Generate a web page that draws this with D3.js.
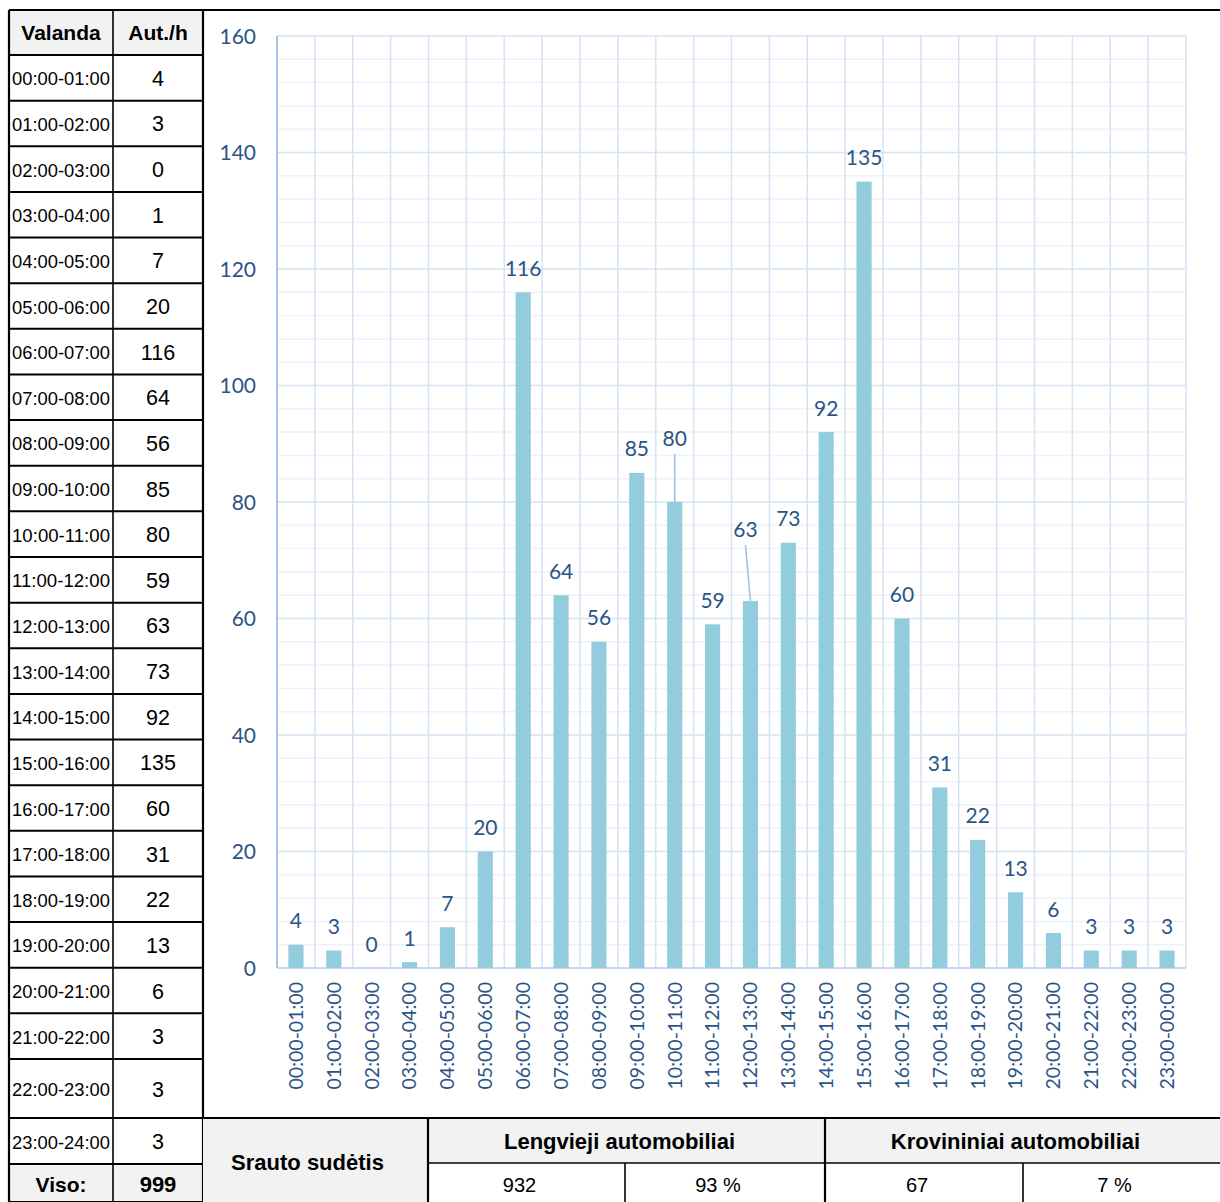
<!DOCTYPE html>
<html>
<head>
<meta charset="utf-8">
<script src="https://cdn.jsdelivr.net/npm/d3@7"></script>
<style>
  html, body { margin: 0; padding: 0; background: #fff; }
  svg { display: block; }
</style>
</head>
<body>
<svg id="chart" width="1220" height="1202"></svg>
<script>
// Hourly traffic counts (vehicles per hour)
const hourLabels = [
  "00:00-01:00","01:00-02:00","02:00-03:00","03:00-04:00","04:00-05:00","05:00-06:00",
  "06:00-07:00","07:00-08:00","08:00-09:00","09:00-10:00","10:00-11:00","11:00-12:00",
  "12:00-13:00","13:00-14:00","14:00-15:00","15:00-16:00","16:00-17:00","17:00-18:00",
  "18:00-19:00","19:00-20:00","20:00-21:00","21:00-22:00","22:00-23:00","23:00-24:00"
];
const axisLabels = [
  "00:00-01:00","01:00-02:00","02:00-03:00","03:00-04:00","04:00-05:00","05:00-06:00",
  "06:00-07:00","07:00-08:00","08:00-09:00","09:00-10:00","10:00-11:00","11:00-12:00",
  "12:00-13:00","13:00-14:00","14:00-15:00","15:00-16:00","16:00-17:00","17:00-18:00",
  "18:00-19:00","19:00-20:00","20:00-21:00","21:00-22:00","22:00-23:00","23:00-00:00"
];
const vehicles = [4,3,0,1,7,20,116,64,56,85,80,59,63,73,92,135,60,31,22,13,6,3,3,3];
const yTicks = [0,20,40,60,80,100,120,140,160];
const totalLabel = "Viso:";
const total = 999;

// Traffic composition
const compositionTitle = "Srauto sudėtis";
const groups = ["Lengvieji automobiliai", "Krovininiai automobiliai"];
const groupCounts = [932, 67];
const groupShares = ["93 %", "7 %"];

const svg = d3.select("#chart");
const W = 1220, H = 1202;

const BLUE_TEXT = "#2B5486";
const BAR = "#93CDDD";
const GRID_MAJOR = "#D6E3F4";
const GRID_MINOR = "#EDF2FA";
const HEAD_BG = "#F2F2F2";
const NARROW = "Liberation Sans Narrow, Liberation Sans, Arial";

// ---------- Left table ----------
const tbl = { x0: 9, x1: 113, x2: 203, top: 10, headBottom: 55 };
const rowEdges = [];
{
  const regular = d3.scaleLinear().domain([0, 22]).range([55, 1059]);
  for (let i = 0; i <= 22; i++) rowEdges.push(regular(i));
  rowEdges.push(1118, 1164, 1202);
}

const tableG = svg.append("g");
// header & total backgrounds
tableG.append("rect").attr("x", tbl.x0).attr("y", tbl.top).attr("width", tbl.x2 - tbl.x0)
  .attr("height", tbl.headBottom - tbl.top).attr("fill", HEAD_BG);
tableG.append("rect").attr("x", tbl.x0).attr("y", rowEdges[24]).attr("width", tbl.x2 - tbl.x0)
  .attr("height", rowEdges[25] - rowEdges[24]).attr("fill", HEAD_BG);

tableG.append("text").attr("x", (tbl.x0 + tbl.x1) / 2).attr("y", 32)
  .attr("text-anchor", "middle").attr("dominant-baseline", "central")
  .attr("font-family", NARROW).attr("font-weight", "bold")
  .attr("font-size", 21).attr("fill", "#000").text("Valanda");
tableG.append("text").attr("x", (tbl.x1 + tbl.x2) / 2).attr("y", 32)
  .attr("text-anchor", "middle").attr("dominant-baseline", "central")
  .attr("font-family", NARROW).attr("font-weight", "bold")
  .attr("font-size", 21).attr("fill", "#000").text("Aut./h");

const rows = tableG.selectAll("g.row").data(hourLabels).join("g").attr("class", "row");
rows.append("text")
  .attr("x", 12)
  .attr("y", (d, i) => (rowEdges[i] + rowEdges[i + 1]) / 2 + 1)
  .attr("dominant-baseline", "central")
  .attr("font-family", "Liberation Sans, Arial").attr("font-size", 18.5).attr("fill", "#000")
  .attr("textLength", 98).attr("lengthAdjust", "spacingAndGlyphs")
  .text(d => d);
rows.append("text")
  .attr("x", (tbl.x1 + tbl.x2) / 2)
  .attr("y", (d, i) => (rowEdges[i] + rowEdges[i + 1]) / 2 + 1)
  .attr("text-anchor", "middle").attr("dominant-baseline", "central")
  .attr("font-family", "Liberation Sans, Arial").attr("font-size", 21.5).attr("fill", "#000")
  .text((d, i) => vehicles[i]);

tableG.append("text").attr("x", (tbl.x0 + tbl.x1) / 2).attr("y", (rowEdges[24] + rowEdges[25]) / 2 + 1)
  .attr("text-anchor", "middle").attr("dominant-baseline", "central")
  .attr("font-family", NARROW).attr("font-weight", "bold")
  .attr("font-size", 21).attr("fill", "#000").text(totalLabel);
tableG.append("text").attr("x", (tbl.x1 + tbl.x2) / 2).attr("y", (rowEdges[24] + rowEdges[25]) / 2 + 1)
  .attr("text-anchor", "middle").attr("dominant-baseline", "central")
  .attr("font-family", "Liberation Sans, Arial").attr("font-weight", "bold")
  .attr("font-size", 22).attr("fill", "#000").text(total);

// table grid lines
const hLines = [tbl.top, tbl.headBottom].concat(rowEdges.slice(1));
tableG.selectAll("line.h").data(hLines).join("line").attr("class", "h")
  .attr("x1", tbl.x0).attr("x2", tbl.x2).attr("y1", d => d).attr("y2", d => d)
  .attr("stroke", "#000").attr("stroke-width", 2);
[tbl.x0, tbl.x1, tbl.x2].forEach((x, i) => {
  tableG.append("line").attr("x1", x).attr("x2", x).attr("y1", tbl.top).attr("y2", H)
    .attr("stroke", "#000").attr("stroke-width", i === 1 ? 1.6 : 2.2);
});

// ---------- Bar chart ----------
const plot = { left: 277, right: 1186, top: 36, bottom: 968 };
const x = d3.scaleBand().domain(axisLabels).range([plot.left, plot.right]).paddingInner(0.6).paddingOuter(0.3);
const xEdges = d3.scaleLinear().domain([0, axisLabels.length]).range([plot.left, plot.right]);
const y = d3.scaleLinear().domain([0, 160]).range([plot.bottom, plot.top]);

const chartG = svg.append("g");
// minor gridlines every 4 units, major every 20
const minor = d3.range(0, 161, 4).filter(v => v % 20 !== 0);
chartG.selectAll("line.minor").data(minor).join("line")
  .attr("x1", plot.left).attr("x2", plot.right).attr("y1", d => y(d)).attr("y2", d => y(d))
  .attr("stroke", GRID_MINOR).attr("stroke-width", 1.5);
chartG.selectAll("line.vgrid").data(d3.range(1, axisLabels.length + 1)).join("line")
  .attr("x1", d => xEdges(d)).attr("x2", d => xEdges(d)).attr("y1", plot.top).attr("y2", plot.bottom)
  .attr("stroke", GRID_MAJOR).attr("stroke-width", 1.5);
chartG.selectAll("line.major").data(yTicks.filter(v => v > 0)).join("line")
  .attr("x1", plot.left).attr("x2", plot.right).attr("y1", d => y(d)).attr("y2", d => y(d))
  .attr("stroke", GRID_MAJOR).attr("stroke-width", 1.5);

// axes lines
chartG.append("line").attr("x1", plot.left).attr("x2", plot.right).attr("y1", plot.bottom).attr("y2", plot.bottom)
  .attr("stroke", "#C9DAF0").attr("stroke-width", 2);
chartG.append("line").attr("x1", plot.left).attr("x2", plot.left).attr("y1", plot.top).attr("y2", plot.bottom)
  .attr("stroke", "#A9C4E8").attr("stroke-width", 2);

// y tick labels
const yAxis = d3.axisLeft(y).tickValues(yTicks).tickSize(0).tickPadding(0);
const yAxisG = chartG.append("g").attr("transform", `translate(${plot.left - 21},0)`).call(yAxis);
yAxisG.select(".domain").remove();
yAxisG.selectAll("text").attr("font-family", "Lato, Open Sans, sans-serif").attr("font-size", 21)
  .attr("fill", BLUE_TEXT).attr("dy", "0.35em");

// x tick labels (rotated)
const xAxis = d3.axisBottom(x).tickSize(0).tickPadding(0);
const xAxisG = chartG.append("g").attr("transform", `translate(0,${plot.bottom})`).call(xAxis);
xAxisG.select(".domain").remove();
xAxisG.selectAll("text")
  .attr("font-family", "Lato, Open Sans, sans-serif").attr("font-size", 19.5).attr("fill", BLUE_TEXT)
  .attr("transform", "rotate(-90)").attr("text-anchor", "end")
  .attr("x", -14).attr("y", 0).attr("dy", "0.35em");

// bars
chartG.selectAll("rect.bar").data(vehicles).join("rect").attr("class", "bar")
  .attr("x", (d, i) => x(axisLabels[i])).attr("width", x.bandwidth())
  .attr("y", d => y(d)).attr("height", d => y(0) - y(d))
  .attr("fill", BAR);

// value labels; a couple are lifted off their bars and joined with a leader line
const labelShift = { 10: { dx: 0, dy: -40 }, 12: { dx: -5, dy: -48 } };
const LABEL_GAP = 25;
vehicles.forEach((v, i) => {
  const cx = x(axisLabels[i]) + x.bandwidth() / 2;
  const s = labelShift[i] || { dx: 0, dy: 0 };
  const ly = y(v) - LABEL_GAP + s.dy;
  const lx = cx + s.dx;
  if (labelShift[i]) {
    chartG.append("line").attr("x1", lx).attr("y1", ly + 17).attr("x2", cx).attr("y2", y(v))
      .attr("stroke", "#9DBDE6").attr("stroke-width", 1.5);
  }
  chartG.append("text").attr("x", lx).attr("y", ly)
    .attr("text-anchor", "middle").attr("dominant-baseline", "central")
    .attr("font-family", "Lato, Open Sans, sans-serif").attr("font-size", 21).attr("fill", BLUE_TEXT)
    .text(v);
});

// chart frame
svg.append("line").attr("x1", tbl.x0).attr("x2", W).attr("y1", tbl.top).attr("y2", tbl.top)
  .attr("stroke", "#000").attr("stroke-width", 2.2);

// ---------- Composition table ----------
const comp = { x0: 203, x1: 428, xm1: 625, x2: 825, xm2: 1023, x3: 1220, top: 1118, mid: 1163, bottom: 1202 };
const TEXT_SHIFT = -7; // cell text sits slightly left of centre
const compG = svg.append("g");
compG.append("rect").attr("x", comp.x0).attr("y", comp.top).attr("width", comp.x1 - comp.x0)
  .attr("height", comp.bottom - comp.top).attr("fill", HEAD_BG);
compG.append("rect").attr("x", comp.x1).attr("y", comp.top).attr("width", comp.x3 - comp.x1)
  .attr("height", comp.mid - comp.top).attr("fill", HEAD_BG);

compG.append("text").attr("x", (comp.x0 + comp.x1) / 2 - 8).attr("y", 1162)
  .attr("text-anchor", "middle").attr("dominant-baseline", "central")
  .attr("font-family", NARROW).attr("font-weight", "bold")
  .attr("font-size", 22).attr("fill", "#000").text(compositionTitle);

const groupX = [[comp.x1, comp.x2], [comp.x2, comp.x3]];
const cellX = [[comp.x1, comp.xm1], [comp.xm1, comp.x2], [comp.x2, comp.xm2], [comp.xm2, comp.x3]];
groups.forEach((g, i) => {
  compG.append("text").attr("x", (groupX[i][0] + groupX[i][1]) / 2 + TEXT_SHIFT).attr("y", (comp.top + comp.mid) / 2 + 1)
    .attr("text-anchor", "middle").attr("dominant-baseline", "central")
    .attr("font-family", NARROW).attr("font-weight", "bold")
    .attr("font-size", 22).attr("fill", "#000").text(g);
  const vals = [groupCounts[i], groupShares[i]];
  vals.forEach((v, j) => {
    const c = cellX[i * 2 + j];
    compG.append("text").attr("x", (c[0] + c[1]) / 2 + TEXT_SHIFT).attr("y", (comp.mid + comp.bottom) / 2 + 2)
      .attr("text-anchor", "middle").attr("dominant-baseline", "central")
      .attr("font-family", NARROW)
      .attr("font-size", 20).attr("fill", "#000").text(v);
  });
});

compG.append("line").attr("x1", comp.x0).attr("x2", comp.x3).attr("y1", comp.top).attr("y2", comp.top)
  .attr("stroke", "#000").attr("stroke-width", 2.2);
compG.append("line").attr("x1", comp.x1).attr("x2", comp.x3).attr("y1", comp.mid).attr("y2", comp.mid)
  .attr("stroke", "#000").attr("stroke-width", 1.6);
[[comp.x1, comp.top, 2.2], [comp.x2, comp.top, 2.2], [comp.xm1, comp.mid, 1.6], [comp.xm2, comp.mid, 1.6]]
  .forEach(([lx, y0, sw]) => {
    compG.append("line").attr("x1", lx).attr("x2", lx).attr("y1", y0).attr("y2", comp.bottom)
      .attr("stroke", "#000").attr("stroke-width", sw);
  });
</script>
</body>
</html>
